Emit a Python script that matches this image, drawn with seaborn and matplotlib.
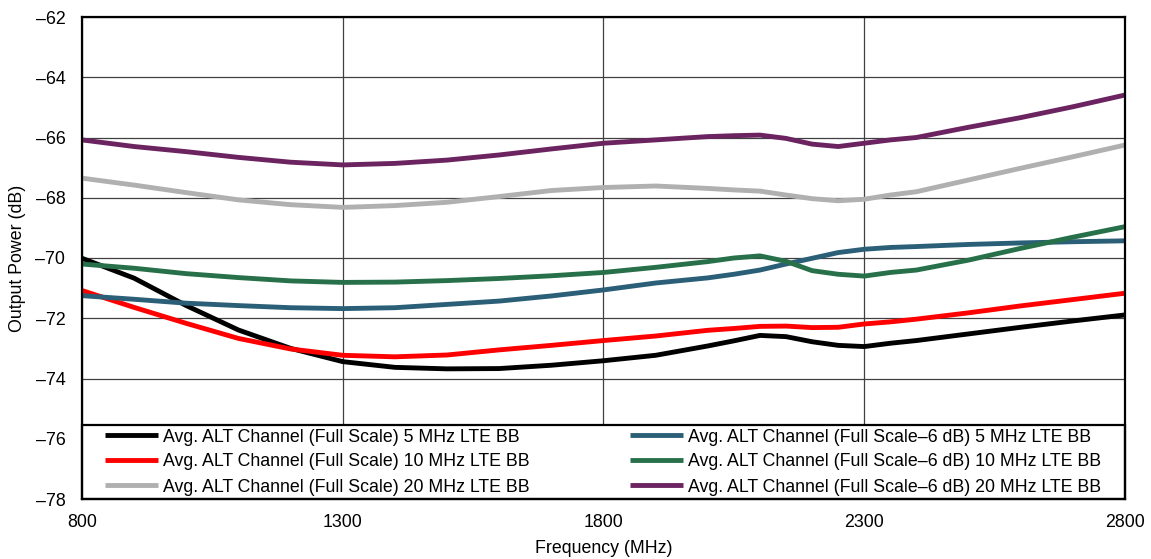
import numpy as np
import pandas as pd
import matplotlib
matplotlib.use("Agg")
import matplotlib.pyplot as plt
from matplotlib.patches import Rectangle
import seaborn as sns

# ---- data ----
freq = [800, 900, 1000, 1100, 1200, 1300, 1400, 1500, 1600, 1700, 1800,
        1900, 2000, 2050, 2100, 2150, 2200, 2250, 2300, 2350, 2400, 2500, 2600, 2700, 2800]

fs_5mhz = [-70.01, -70.67, -71.58, -72.39, -73.00, -73.44, -73.63, -73.68, -73.67, -73.56, -73.41,
           -73.23, -72.92, -72.75, -72.57, -72.61, -72.78, -72.90, -72.94, -72.83, -72.74,
           -72.52, -72.30, -72.09, -71.89]
fs_10mhz = [-71.08, -71.64, -72.17, -72.67, -73.02, -73.23, -73.28, -73.22, -73.05, -72.90, -72.74,
            -72.59, -72.40, -72.34, -72.27, -72.26, -72.31, -72.30, -72.19, -72.12, -72.03,
            -71.82, -71.59, -71.38, -71.17]
fs_20mhz = [-67.35, -67.58, -67.83, -68.07, -68.23, -68.32, -68.26, -68.15, -67.96, -67.76, -67.66,
            -67.61, -67.69, -67.74, -67.78, -67.91, -68.03, -68.10, -68.05, -67.91, -67.80,
            -67.41, -67.02, -66.64, -66.25]
fs6_5mhz = [-71.25, -71.37, -71.50, -71.58, -71.65, -71.68, -71.65, -71.54, -71.43, -71.26, -71.06,
            -70.83, -70.66, -70.54, -70.40, -70.20, -70.01, -69.82, -69.71, -69.65, -69.62,
            -69.55, -69.50, -69.46, -69.43]
fs6_10mhz = [-70.20, -70.34, -70.52, -70.65, -70.76, -70.81, -70.80, -70.75, -70.68, -70.59, -70.48,
             -70.31, -70.12, -70.00, -69.93, -70.11, -70.42, -70.54, -70.60, -70.48, -70.40,
             -70.07, -69.68, -69.31, -68.96]
fs6_20mhz = [-66.08, -66.30, -66.47, -66.66, -66.82, -66.91, -66.86, -66.75, -66.58, -66.38, -66.19,
             -66.08, -65.97, -65.94, -65.92, -66.03, -66.22, -66.30, -66.19, -66.08, -66.00,
             -65.66, -65.34, -64.98, -64.59]

series_names = [
    "Avg. ALT Channel (Full Scale) 5 MHz LTE BB",
    "Avg. ALT Channel (Full Scale) 10 MHz LTE BB",
    "Avg. ALT Channel (Full Scale) 20 MHz LTE BB",
    "Avg. ALT Channel (Full Scale\u20136 dB) 5 MHz LTE BB",
    "Avg. ALT Channel (Full Scale\u20136 dB) 10 MHz LTE BB",
    "Avg. ALT Channel (Full Scale\u20136 dB) 20 MHz LTE BB",
]
series_values = [fs_5mhz, fs_10mhz, fs_20mhz, fs6_5mhz, fs6_10mhz, fs6_20mhz]
colors = ["#000000", "#ff0000", "#b0b0b0", "#2b5f78", "#28704a", "#6b2460"]

x_ticks = [800, 1300, 1800, 2300, 2800]
y_ticks = [-78, -76, -74, -72, -70, -68, -66, -64, -62]

frames = []
for name, vals in zip(series_names, series_values):
    frames.append(pd.DataFrame({"Frequency": freq, "Power": vals, "Series": name}))
df = pd.concat(frames, ignore_index=True)

# ---- style ----
sns.set_theme(style="white")
plt.rcParams["font.family"] = ["Liberation Sans", "DejaVu Sans"]
FS = 12.8

fig = plt.figure(figsize=(11.51, 5.59), dpi=100)
ax = fig.add_axes([82 / 1151, 1 - 499 / 559, (1125 - 82) / 1151, (499 - 17) / 559])

sns.lineplot(data=df, x="Frequency", y="Power", hue="Series", hue_order=series_names,
             palette=colors, linewidth=3.5, ax=ax, legend=False, sort=False,
             estimator=None)
for ln in ax.get_lines():
    ln.set_solid_capstyle("butt")
    ln.set_solid_joinstyle("round")
    ln.set_zorder(3)

ax.set_xlim(800, 2800)
ax.set_ylim(-78, -62)
ax.set_xticks(x_ticks)
ax.set_yticks(y_ticks)
ax.set_xticklabels([str(t) for t in x_ticks], fontsize=FS)
ax.set_yticklabels([("\u2013" + str(abs(t))) for t in y_ticks], fontsize=FS)
ax.tick_params(axis="both", length=0, colors="black")
ax.tick_params(axis="y", pad=12)
ax.tick_params(axis="x", pad=11)

ax.set_axisbelow(True)
ax.grid(True, color="#404040", linewidth=0.9)
for sp in ax.spines.values():
    sp.set_color("black")
    sp.set_linewidth(1.6)
    sp.set_zorder(6)

ax.set_xlabel("Frequency (MHz)", fontsize=FS, labelpad=6, color="black")
ax.set_ylabel("Output Power (dB)", fontsize=FS, labelpad=7, color="black")

# legend box spanning the axes width
leg_h = (499 - 425) / 482
ax.add_patch(Rectangle((0, 0), 1, leg_h, transform=ax.transAxes, facecolor="white",
                       edgecolor="black", linewidth=1.6, zorder=4, clip_on=False))
handles = ax.get_lines()[:6]
leg = ax.legend(handles, series_names, ncol=2, mode="expand", loc="center",
                bbox_to_anchor=((105 - 82) / 1043, 0, (1101 - 105) / 1043, leg_h),
                frameon=False, fontsize=FS, handlelength=3.0, handletextpad=0.25,
                borderpad=0, borderaxespad=0, labelspacing=0.45, columnspacing=1.0)
leg.set_zorder(5)
for t in leg.get_texts():
    t.set_color("black")

fig.savefig("out.png", dpi=100, facecolor="white")
